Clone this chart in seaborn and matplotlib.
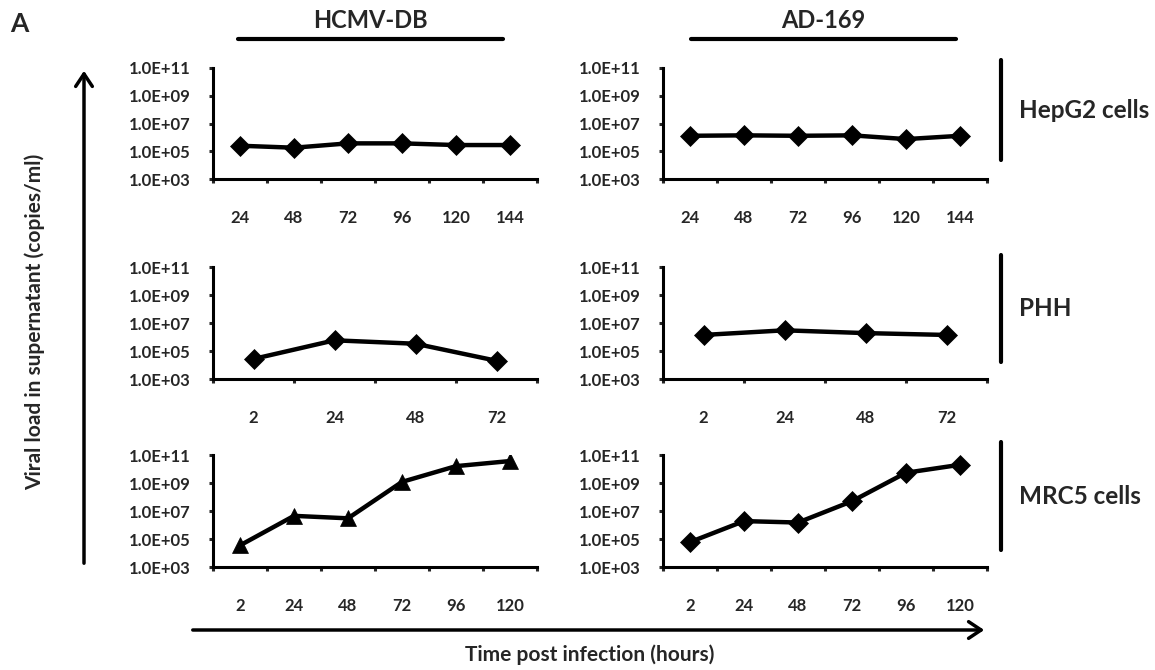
"""Viral load over time: HCMV-DB vs AD-169 in HepG2, PHH and MRC5 cells."""

import numpy as np
import pandas as pd
import matplotlib
matplotlib.use("Agg")
import matplotlib.pyplot as plt
from matplotlib.lines import Line2D
from matplotlib.patches import FancyArrowPatch
import seaborn as sns

# ── data ─────────────────────────────────────────────────────────────────────
hepg2_hours = ["24", "48", "72", "96", "120", "144"]
phh_hours = ["2", "24", "48", "72"]
mrc5_hours = ["2", "24", "48", "72", "96", "120"]

hepg2_db = [2.5e5, 1.8e5, 3.7e5, 3.7e5, 2.8e5, 2.8e5]
hepg2_ad = [1.3e6, 1.4e6, 1.3e6, 1.4e6, 7.5e5, 1.3e6]
phh_db = [2.7e4, 5.8e5, 3.3e5, 2.0e4]
phh_ad = [1.4e6, 3.0e6, 1.9e6, 1.4e6]
mrc5_db = [3.5e4, 4.5e6, 3.0e6, 1.2e9, 1.6e10, 3.7e10]
mrc5_ad = [6.0e4, 1.9e6, 1.5e6, 5.0e7, 5.4e9, 2.0e10]

y_ticks = [1e3, 1e5, 1e7, 1e9, 1e11]
y_tick_labels = ["1.0E+03", "1.0E+05", "1.0E+07", "1.0E+09", "1.0E+11"]

strains = ["HCMV-DB", "AD-169"]
cell_types = ["HepG2 cells", "PHH", "MRC5 cells"]

panels = [
    (hepg2_hours, hepg2_db, hepg2_ad, "D", "D"),
    (phh_hours, phh_db, phh_ad, "D", "D"),
    (mrc5_hours, mrc5_db, mrc5_ad, "^", "D"),
]

# ── style ────────────────────────────────────────────────────────────────────
sns.set_style("white")
plt.rcParams["font.family"] = ["Lato", "DejaVu Sans"]
plt.rcParams["font.weight"] = "bold"

W, H = 1155, 670
fig = plt.figure(figsize=(W / 100, H / 100), dpi=100)


def fx(px):
    return px / W


def fy(py):
    return 1 - py / H


col_left = [213, 663]
col_width = 324
rows = [(68, 179), (267, 379), (455, 567)]

for r, (hours, db, ad, mk_db, mk_ad) in enumerate(panels):
    top, bottom = rows[r]
    for c, (vals, mk) in enumerate([(db, mk_db), (ad, mk_ad)]):
        ax = fig.add_axes([fx(col_left[c]), fy(bottom), fx(col_width),
                           (bottom - top) / H])
        df = pd.DataFrame({"pos": np.arange(len(hours)), "load": vals})
        sns.lineplot(data=df, x="pos", y="load", ax=ax, color="black",
                     linewidth=3.2, marker=mk,
                     markersize=10 if mk == "D" else 11,
                     markeredgecolor="black", markeredgewidth=0.5)
        ax.set_yscale("log")
        ax.set_ylim(1e3, 1e11)
        ax.set_yticks(y_ticks)
        ax.set_yticklabels(y_tick_labels, fontsize=12, fontweight="bold")
        ax.minorticks_off()
        n = len(hours)
        ax.set_xlim(-0.5, n - 0.5)
        ax.set_xticks(np.arange(n))
        ax.set_xticklabels(hours, fontsize=12, fontweight="bold")
        ax.set_xticks(np.arange(n + 1) - 0.5, minor=True)
        ax.tick_params(axis="x", which="major", length=0, pad=22)
        ax.tick_params(axis="x", which="minor", length=3, width=2.2,
                       direction="out", bottom=True)
        ax.tick_params(axis="y", which="major", length=3, width=2.2,
                       direction="out", left=True, pad=13)
        ax.set_xlabel("")
        ax.set_ylabel("")
        ax.spines[["top", "right"]].set_visible(False)
        for s in ["left", "bottom"]:
            ax.spines[s].set_linewidth(2.2)
            ax.spines[s].set_color("black")
        ax.patch.set_alpha(0)

# ── column headers ───────────────────────────────────────────────────────────
header_spans = [(238, 503), (691, 956)]
for name, (x0, x1) in zip(strains, header_spans):
    fig.add_artist(Line2D([fx(x0), fx(x1)], [fy(39), fy(39)], color="black",
                          linewidth=3))
    fig.text(fx((x0 + x1) / 2), fy(20), name, ha="center", va="center",
             fontsize=17, fontweight="bold")

# ── row labels ───────────────────────────────────────────────────────────────
row_bars = [(60, 160), (255, 362), (442, 550)]
for name, (y0, y1) in zip(cell_types, row_bars):
    fig.add_artist(Line2D([fx(1001), fx(1001)], [fy(y0), fy(y1)],
                          color="black", linewidth=3))
    fig.text(fx(1019), fy((y0 + y1) / 2), name, ha="left", va="center",
             fontsize=17.5, fontweight="bold")

# ── panel letter and axis arrows ─────────────────────────────────────────────
fig.text(fx(10), fy(24), "A", ha="left", va="center", fontsize=19,
         fontweight="bold")

fig.add_artist(FancyArrowPatch(
    (fx(84), fy(566)), (fx(84), fy(68)), transform=fig.transFigure,
    arrowstyle="->,head_length=9,head_width=6", linewidth=2.5, color="black"))
fig.text(fx(35), fy(322), "Viral load in supernatant (copies/ml)",
         rotation=90, ha="center", va="center", fontsize=15, fontweight="bold")

fig.add_artist(FancyArrowPatch(
    (fx(190), fy(630)), (fx(987), fy(630)), transform=fig.transFigure,
    arrowstyle="->,head_length=9,head_width=6", linewidth=2.5, color="black"))
fig.text(fx(590), fy(655), "Time post infection (hours)", ha="center",
         va="center", fontsize=15, fontweight="bold")

fig.savefig("out.png", dpi=100, facecolor="white")
